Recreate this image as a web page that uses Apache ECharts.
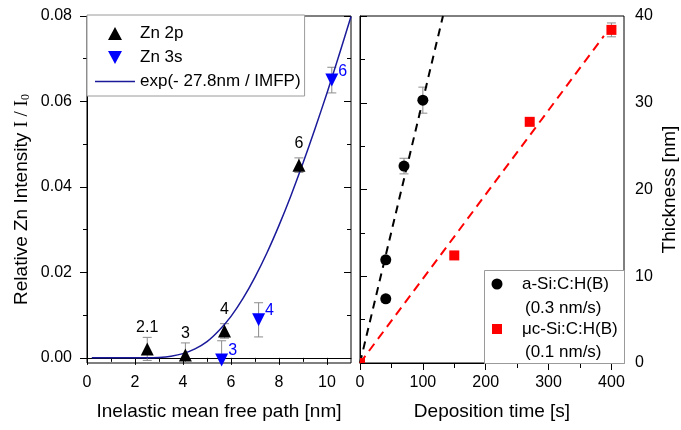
<!DOCTYPE html>
<html>
<head>
<meta charset="utf-8">
<script src="https://cdn.jsdelivr.net/npm/echarts@6/dist/echarts.min.js"></script>
<style>
html,body{margin:0;padding:0;background:#fff;}
#chart{width:681px;height:430px;}
</style>
</head>
<body>
<div id="chart"></div>
<script>
// left panel: relative Zn intensity vs IMFP
var zn2pX = [2.51, 4.10, 5.73, 8.83];
var zn2pY = [0.0021, 0.0007, 0.0063, 0.0451];
var zn2pErr = [0.0027, 0.0028, 0.0017, 0.0017];
var zn2pLbl = ['2.1', '3', '4', '6'];

var zn3sX = [5.61, 7.15, 10.2];
var zn3sY = [-0.0005, 0.0089, 0.0650];
var zn3sErr = [0.0045, 0.0040, 0.0030];
var zn3sLbl = ['3', '4', '6'];

// model curve
var expX = [0.2, 1, 2, 2.5, 3, 3.5, 4, 4.5, 5, 5.5, 6, 6.5, 7, 7.5, 8, 8.5, 9, 9.5, 10, 10.5, 11];
var expY = [0, 0, 0, 0, 0.0001, 0.0004, 0.0010, 0.0021, 0.0038, 0.0064, 0.0097, 0.0139, 0.0189, 0.0246, 0.0310, 0.0380, 0.0456, 0.0536, 0.0620, 0.0708, 0.0799];

// right panel: thickness vs deposition time
var aSiX = [41, 41, 70, 100];
var aSiY = [7.4, 11.9, 22.7, 30.3];
var aSiErr = [0.4, 0.4, 0.9, 1.5];

var ucSiX = [0, 150, 270, 400];
var ucSiY = [0, 12.4, 27.8, 38.4];
var ucSiErr = [0, 0.3, 0.3, 0.8];

var fitAX = [0, 132];
var fitAY = [0, 40];
var fitBX = [0, 388];
var fitBY = [0, 37.7];

// tick positions
var imfpTicks = [0, 2, 4, 6, 8, 10];
var imfpMinor = [1, 3, 5, 7, 9];
var intTicks = [0, 0.02, 0.04, 0.06, 0.08];
var intMinor = [0.01, 0.03, 0.05, 0.07];
var timeTicks = [0, 100, 200, 300, 400];
var timeMinor = [50, 150, 250, 350];
var thickTicks = [0, 10, 20, 30, 40];
var thickMinor = [5, 15, 25, 35];

var FONT = '"Liberation Sans", Arial, sans-serif';

function pairs(xs, ys) {
	return xs.map(function(x, i){ return [x, ys[i]]; });
}

// tick-only axis (no line, no labels)
function tickAxis(grid, pos, min, max, ticks, len, inside) {
	return {
		type: 'value', gridIndex: grid, position: pos, min: min, max: max,
		splitLine: {show: false},
		axisLine: {show: false},
		axisLabel: {show: false},
		axisTick: {show: true, inside: inside, length: len, customValues: ticks, lineStyle: {color: '#000', width: 1}}
	};
}

// main axis with labels and name
function mainAxis(grid, pos, min, max, ticks, labelFmt, margin, name, nameGap) {
	var a = tickAxis(grid, pos, min, max, ticks, 7, false);
	a.axisLine = {show: true, lineStyle: {color: '#000', width: 1}};
	a.axisLabel = {show: true, customValues: ticks, formatter: labelFmt, margin: margin,
		color: '#000', fontSize: 16, fontFamily: FONT};
	a.name = name;
	a.nameLocation = 'middle';
	a.nameGap = nameGap;
	a.nameTextStyle = {color: '#000', fontSize: 19, fontFamily: FONT};
	return a;
}

// error bars drawn through the axes
function errBars(xs, ys, es, xi, yi) {
	return {
		type: 'custom', xAxisIndex: xi, yAxisIndex: yi, z: 1, silent: true,
		data: xs.map(function(x, i){ return [x, ys[i], es[i]]; }),
		renderItem: function(params, api) {
			var x = api.value(0), y = api.value(1), e = api.value(2);
			if (!e) return null;
			var cs = params.coordSys;
			var hi = api.coord([x, y + e]);
			var lo = api.coord([x, y - e]);
			var w = 4.5;
			var st = {stroke: '#8c8c8c', lineWidth: 1};
			var kids = [];
			var yTop = Math.max(hi[1], cs.y), yBot = Math.min(lo[1], cs.y + cs.height);
			kids.push({type: 'line', shape: {x1: hi[0], y1: yTop, x2: lo[0], y2: yBot}, style: st});
			if (hi[1] >= cs.y) kids.push({type: 'line', shape: {x1: hi[0] - w, y1: hi[1], x2: hi[0] + w, y2: hi[1]}, style: st});
			if (lo[1] <= cs.y + cs.height) kids.push({type: 'line', shape: {x1: lo[0] - w, y1: lo[1], x2: lo[0] + w, y2: lo[1]}, style: st});
			return {type: 'group', children: kids};
		}
	};
}

// square markers cut at the plot frame
function clippedSquares(xs, ys, size, color, xi, yi) {
	return {
		type: 'custom', xAxisIndex: xi, yAxisIndex: yi, z: 3, silent: true,
		data: pairs(xs, ys),
		renderItem: function(params, api) {
			var cs = params.coordSys;
			var c = api.coord([api.value(0), api.value(1)]);
			var h = size / 2;
			var x1 = Math.max(c[0] - h, cs.x), x2 = Math.min(c[0] + h, cs.x + cs.width);
			var y1 = Math.max(c[1] - h, cs.y), y2 = Math.min(c[1] + h, cs.y + cs.height);
			return {type: 'rect', shape: {x: x1, y: y1, width: x2 - x1, height: y2 - y1}, style: {fill: color}};
		}
	};
}

var myChart = echarts.init(document.getElementById('chart'), null, {renderer: 'canvas'});

var option = {
	animation: false,
	backgroundColor: '#fff',
	grid: [
		{left: 87, top: 16, width: 264, height: 347, show: true, borderColor: '#000', borderWidth: 1, containLabel: false},
		{left: 360, top: 16, width: 264, height: 347, show: true, borderColor: '#000', borderWidth: 1, containLabel: false}
	],
	xAxis: [
		mainAxis(0, 'bottom', 0, 11, imfpTicks, function(v){ return v; }, 12, 'Inelastic mean free path [nm]', 39),
		tickAxis(0, 'bottom', 0, 11, imfpMinor, 4, false),
		mainAxis(1, 'bottom', 0, 420, timeTicks, function(v){ return v; }, 12, 'Deposition time [s]', 39),
		tickAxis(1, 'bottom', 0, 420, timeMinor, 4, false),
		tickAxis(1, 'top', 0, 420, timeTicks, 7, true),
		tickAxis(1, 'top', 0, 420, timeMinor, 5, true)
	],
	yAxis: [
		mainAxis(0, 'left', -0.0012, 0.08, intTicks, function(v){ return v.toFixed(2); }, 15,
			'{n|Relative Zn Intensity }{t|I / I}{s|0}', 55),
		tickAxis(0, 'left', -0.0012, 0.08, intMinor, 4, false),
		tickAxis(0, 'right', -0.0012, 0.08, intTicks, 7, true),
		tickAxis(0, 'right', -0.0012, 0.08, intMinor, 4, true),
		mainAxis(1, 'right', 0, 40, thickTicks, function(v){ return v; }, 11, 'Thickness [nm]', 36),
		tickAxis(1, 'right', 0, 40, thickMinor, 4, false),
		tickAxis(1, 'left', 0, 40, thickTicks, 7, true),
		tickAxis(1, 'left', 0, 40, thickMinor, 5, true)
	],
	legend: [{
		data: [
			{name: 'Zn 2p', icon: 'path://M0,13L7,0L14,13Z'},
			{name: 'Zn 3s', icon: 'path://M0,0L14,0L7,13Z'},
			{name: 'exp(- 27.8nm / IMFP)', icon: 'path://M0,0L40,0L40,1.6L0,1.6Z'}
		],
		orient: 'vertical', left: 87, top: 15,
		itemWidth: 40, itemHeight: 13, itemGap: 7,
		padding: [10, 4, 6, 8],
		borderColor: '#9a9a9a', borderWidth: 1,
		backgroundColor: '#fff',
		selectedMode: false,
		textStyle: {color: '#000', fontSize: 17, fontFamily: FONT}
	}],
	graphic: [
		{type: 'rect', left: 484, top: 270, z: 50,
			shape: {width: 140, height: 93}, style: {fill: '#fff', stroke: '#9a9a9a', lineWidth: 1}},
		{type: 'circle', x: 497, y: 284, z: 51, shape: {r: 5.5}, style: {fill: '#000'}},
		{type: 'text', x: 522, y: 284, z: 51,
			style: {text: 'a-Si:C:H(B)', font: '17px ' + FONT, fill: '#000', verticalAlign: 'middle'}},
		{type: 'text', x: 525, y: 308, z: 51,
			style: {text: '(0.3 nm/s)', font: '17px ' + FONT, fill: '#000', verticalAlign: 'middle'}},
		{type: 'rect', x: 492, y: 324, z: 51, shape: {width: 10, height: 10}, style: {fill: '#ff0000'}},
		{type: 'text', x: 522, y: 329, z: 51,
			style: {text: 'μc-Si:C:H(B)', font: '17px ' + FONT, fill: '#000', verticalAlign: 'middle'}},
		{type: 'text', x: 525, y: 352, z: 51,
			style: {text: '(0.1 nm/s)', font: '17px ' + FONT, fill: '#000', verticalAlign: 'middle'}}
	],
	series: [
		errBars(zn2pX, zn2pY, zn2pErr, 0, 0),
		errBars(zn3sX, zn3sY, zn3sErr, 0, 0),
		{
			name: 'exp(- 27.8nm / IMFP)', type: 'line', xAxisIndex: 0, yAxisIndex: 0,
			data: pairs(expX, expY), symbol: 'none', smooth: 0.2, z: 2,
			lineStyle: {color: '#1a1a9a', width: 1.5}, itemStyle: {color: '#1a1a9a'}
		},
		{
			name: 'Zn 2p', type: 'scatter', xAxisIndex: 0, yAxisIndex: 0, z: 3,
			data: pairs(zn2pX, zn2pY), symbol: 'triangle', symbolSize: 13,
			itemStyle: {color: '#000', opacity: 1},
			label: {show: true, position: 'top', distance: 7, color: '#000', fontSize: 16, fontFamily: FONT,
				formatter: function(p){ return zn2pLbl[p.dataIndex]; }}
		},
		{
			name: 'Zn 3s', type: 'scatter', xAxisIndex: 0, yAxisIndex: 0, z: 3,
			data: pairs(zn3sX, zn3sY), symbol: 'triangle', symbolRotate: 180, symbolSize: 13,
			itemStyle: {color: '#0000ff', opacity: 1},
			label: {show: true, position: 'right', distance: 0, offset: [0, -9], color: '#0000ff', fontSize: 16, fontFamily: FONT,
				formatter: function(p){ return zn3sLbl[p.dataIndex]; }}
		},
		{
			name: 'fitA', type: 'line', xAxisIndex: 2, yAxisIndex: 4, z: 2,
			data: pairs(fitAX, fitAY), symbol: 'none',
			lineStyle: {color: '#000', width: 2, type: [8, 6]}
		},
		{
			name: 'fitB', type: 'line', xAxisIndex: 2, yAxisIndex: 4, z: 2,
			data: pairs(fitBX, fitBY), symbol: 'none',
			lineStyle: {color: '#ff0000', width: 2, type: [9, 6]}
		},
		errBars(aSiX, aSiY, aSiErr, 2, 4),
		errBars(ucSiX, ucSiY, ucSiErr, 2, 4),
		{
			name: 'a-Si:C:H(B)', type: 'scatter', xAxisIndex: 2, yAxisIndex: 4, z: 3,
			data: pairs(aSiX, aSiY), symbol: 'circle', symbolSize: 11,
			itemStyle: {color: '#000', opacity: 1}
		},
		clippedSquares(ucSiX, ucSiY, 10, '#ff0000', 2, 4)
	]
};

option.yAxis[0].nameTextStyle.rich = {
	n: {fontSize: 19, fontFamily: FONT, color: '#000'},
	t: {fontSize: 19, fontFamily: '"Liberation Serif", "Times New Roman", serif', color: '#000'},
	s: {fontSize: 12, fontFamily: '"Liberation Serif", "Times New Roman", serif', color: '#000', verticalAlign: 'bottom', padding: [8, 0, 0, 0]}
};
option.yAxis[0].nameTextStyle.padding = [0, 20, 0, 0];

myChart.setOption(option);
</script>
</body>
</html>
